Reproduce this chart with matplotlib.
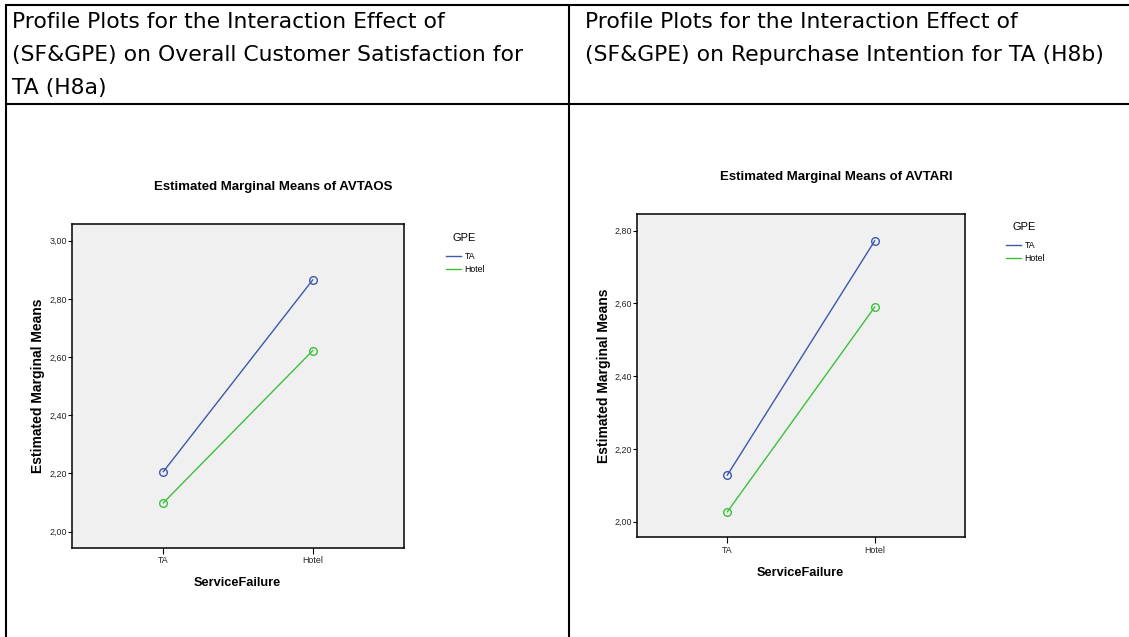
import matplotlib
matplotlib.use("Agg")
import matplotlib.pyplot as plt
from matplotlib.lines import Line2D

W, H = 1129, 637
DPI = 100

# ---- data ----
categories = ["TA", "Hotel"]          # ServiceFailure
groups = ["TA", "Hotel"]              # GPE
os_ta = [2.206, 2.865]                # AVTAOS, GPE = TA
os_hotel = [2.099, 2.622]             # AVTAOS, GPE = Hotel
ri_ta = [2.128, 2.772]                # AVTARI, GPE = TA
ri_hotel = [2.027, 2.590]             # AVTARI, GPE = Hotel
os_ticks = [2.00, 2.20, 2.40, 2.60, 2.80, 3.00]
ri_ticks = [2.00, 2.20, 2.40, 2.60, 2.80]

header_left = ["Profile Plots for the Interaction Effect of",
               "(SF&GPE) on Overall Customer Satisfaction for",
               "TA (H8a)"]
header_right = ["Profile Plots for the Interaction Effect of",
                "(SF&GPE) on Repurchase Intention for TA (H8b)"]

colors = ["#3E58AC", "#3CC03C"]
FONT = "Liberation Sans"
HFONT = "DejaVu Sans"

fig = plt.figure(figsize=(W / DPI, H / DPI), dpi=DPI)
fig.patch.set_facecolor("white")

def fx(px):
    return px / W

def fy(py):
    return 1 - py / H

# table lines
lw_tab = 1.5
for (x0, y0, x1, y1) in [(4.5, 4.5, 1129, 4.5), (4.5, 104, 1129, 104),
                         (5.5, 4, 5.5, 637), (569, 4, 569, 637)]:
    fig.add_artist(Line2D([fx(x0), fx(x1)], [fy(y0), fy(y1)], color="black",
                          lw=lw_tab, transform=fig.transFigure, solid_capstyle="butt"))

# headers: choose a size so that the text widths match the reference
renderer = fig.canvas.get_renderer()
probe = fig.text(0, 0, header_left[0], family=HFONT, fontsize=14)
pw = probe.get_window_extent(renderer).width
probe.remove()
hsize = 14 * 433.0 / pw
hfont = dict(family=HFONT, fontsize=hsize, color="black", va="baseline", ha="left")
for i, line in enumerate(header_left):
    fig.text(fx(12), fy(28 + 33 * i), line, **hfont)
for i, line in enumerate(header_right):
    fig.text(fx(585), fy(28 + 33 * i), line, **hfont)


def make_panel(box, ylim, xlim, yticks, series_a, series_b):
    left, right, top, bottom = box
    ax = fig.add_axes([fx(left), fy(bottom), (right - left) / W, (bottom - top) / H])
    ax.set_facecolor("#F0F0F0")
    xs = list(range(len(categories)))
    for vals, name, c in [(series_a, groups[0], colors[0]), (series_b, groups[1], colors[1])]:
        ax.plot(xs, vals, color=c, lw=1.0, marker="o", markersize=5.5,
                markerfacecolor="none", markeredgecolor=c, markeredgewidth=1.0,
                label=name)
    ax.set_xlim(*xlim)
    ax.set_ylim(*ylim)
    ax.set_xticks(xs)
    ax.set_xticklabels(categories, family=FONT, fontsize=6.4)
    ax.set_yticks(yticks)
    ax.set_yticklabels([f"{t:.2f}".replace(".", ",") for t in yticks],
                       family=FONT, fontsize=6.4)
    ax.tick_params(axis="y", direction="out", length=3, width=0.8, pad=0.5,
                   colors="black", labelcolor="#222222")
    ax.tick_params(axis="x", direction="out", length=4, width=0.8, pad=2,
                   colors="black", labelcolor="#222222")
    for s in ax.spines.values():
        s.set_linewidth(1.1)
        s.set_color("black")
    ax.set_ylabel("Estimated Marginal Means", family=FONT, fontsize=10, fontweight="bold")
    ax.set_xlabel("ServiceFailure", family=FONT, fontsize=9.2, fontweight="bold")
    return ax

panels = [
    dict(box=(71.7, 404, 224.3, 547.7), ylim=(1.945, 3.056), xlim=(-0.613, 1.611),
         yticks=os_ticks, a=os_ta, b=os_hotel, title="Estimated Marginal Means of AVTAOS",
         title_xy=(273, 186.7), ylab_x=38, xlab_y=583, xlab_x=237.7,
         gpe=(464.2, 237.7), leg=(445.7, 252.0)),
    dict(box=(637.3, 965.3, 214, 537.3), ylim=(1.957, 2.846), xlim=(-0.611, 1.615),
         yticks=ri_ticks, a=ri_ta, b=ri_hotel, title="Estimated Marginal Means of AVTARI",
         title_xy=(836, 176.7), ylab_x=604, xlab_y=572.7, xlab_x=800.7,
         gpe=(1024.2, 227.0), leg=(1005.7, 241.3)),
]

for p in panels:
    ax = make_panel(p["box"], p["ylim"], p["xlim"], p["yticks"], p["a"], p["b"])
    left, right, top, bottom = p["box"]
    w = right - left
    h = bottom - top
    ax.yaxis.set_label_coords((p["ylab_x"] - left) / w, 0.5)
    ax.yaxis.label.set_va("center")
    ax.xaxis.set_label_coords((p["xlab_x"] - left) / w, -(p["xlab_y"] - bottom) / h)
    ax.xaxis.label.set_va("center")
    fig.text(fx(p["title_xy"][0]), fy(p["title_xy"][1]), p["title"], family=FONT,
             fontsize=9.5, fontweight="bold", ha="center", va="center")
    fig.text(fx(p["gpe"][0]), fy(p["gpe"][1]), "GPE", family=FONT, fontsize=7.9,
             ha="center", va="center")
    leg = ax.legend(loc="upper left", bbox_to_anchor=(fx(p["leg"][0]), fy(p["leg"][1])),
                    bbox_transform=fig.transFigure, frameon=False,
                    prop=dict(family=FONT, size=6.3), borderpad=0, borderaxespad=0,
                    handlelength=1.75, handletextpad=0.4, labelspacing=0.45)
    for hl in leg.legend_handles:
        hl.set_marker("")

fig.savefig("out.png", dpi=DPI, facecolor="white")
